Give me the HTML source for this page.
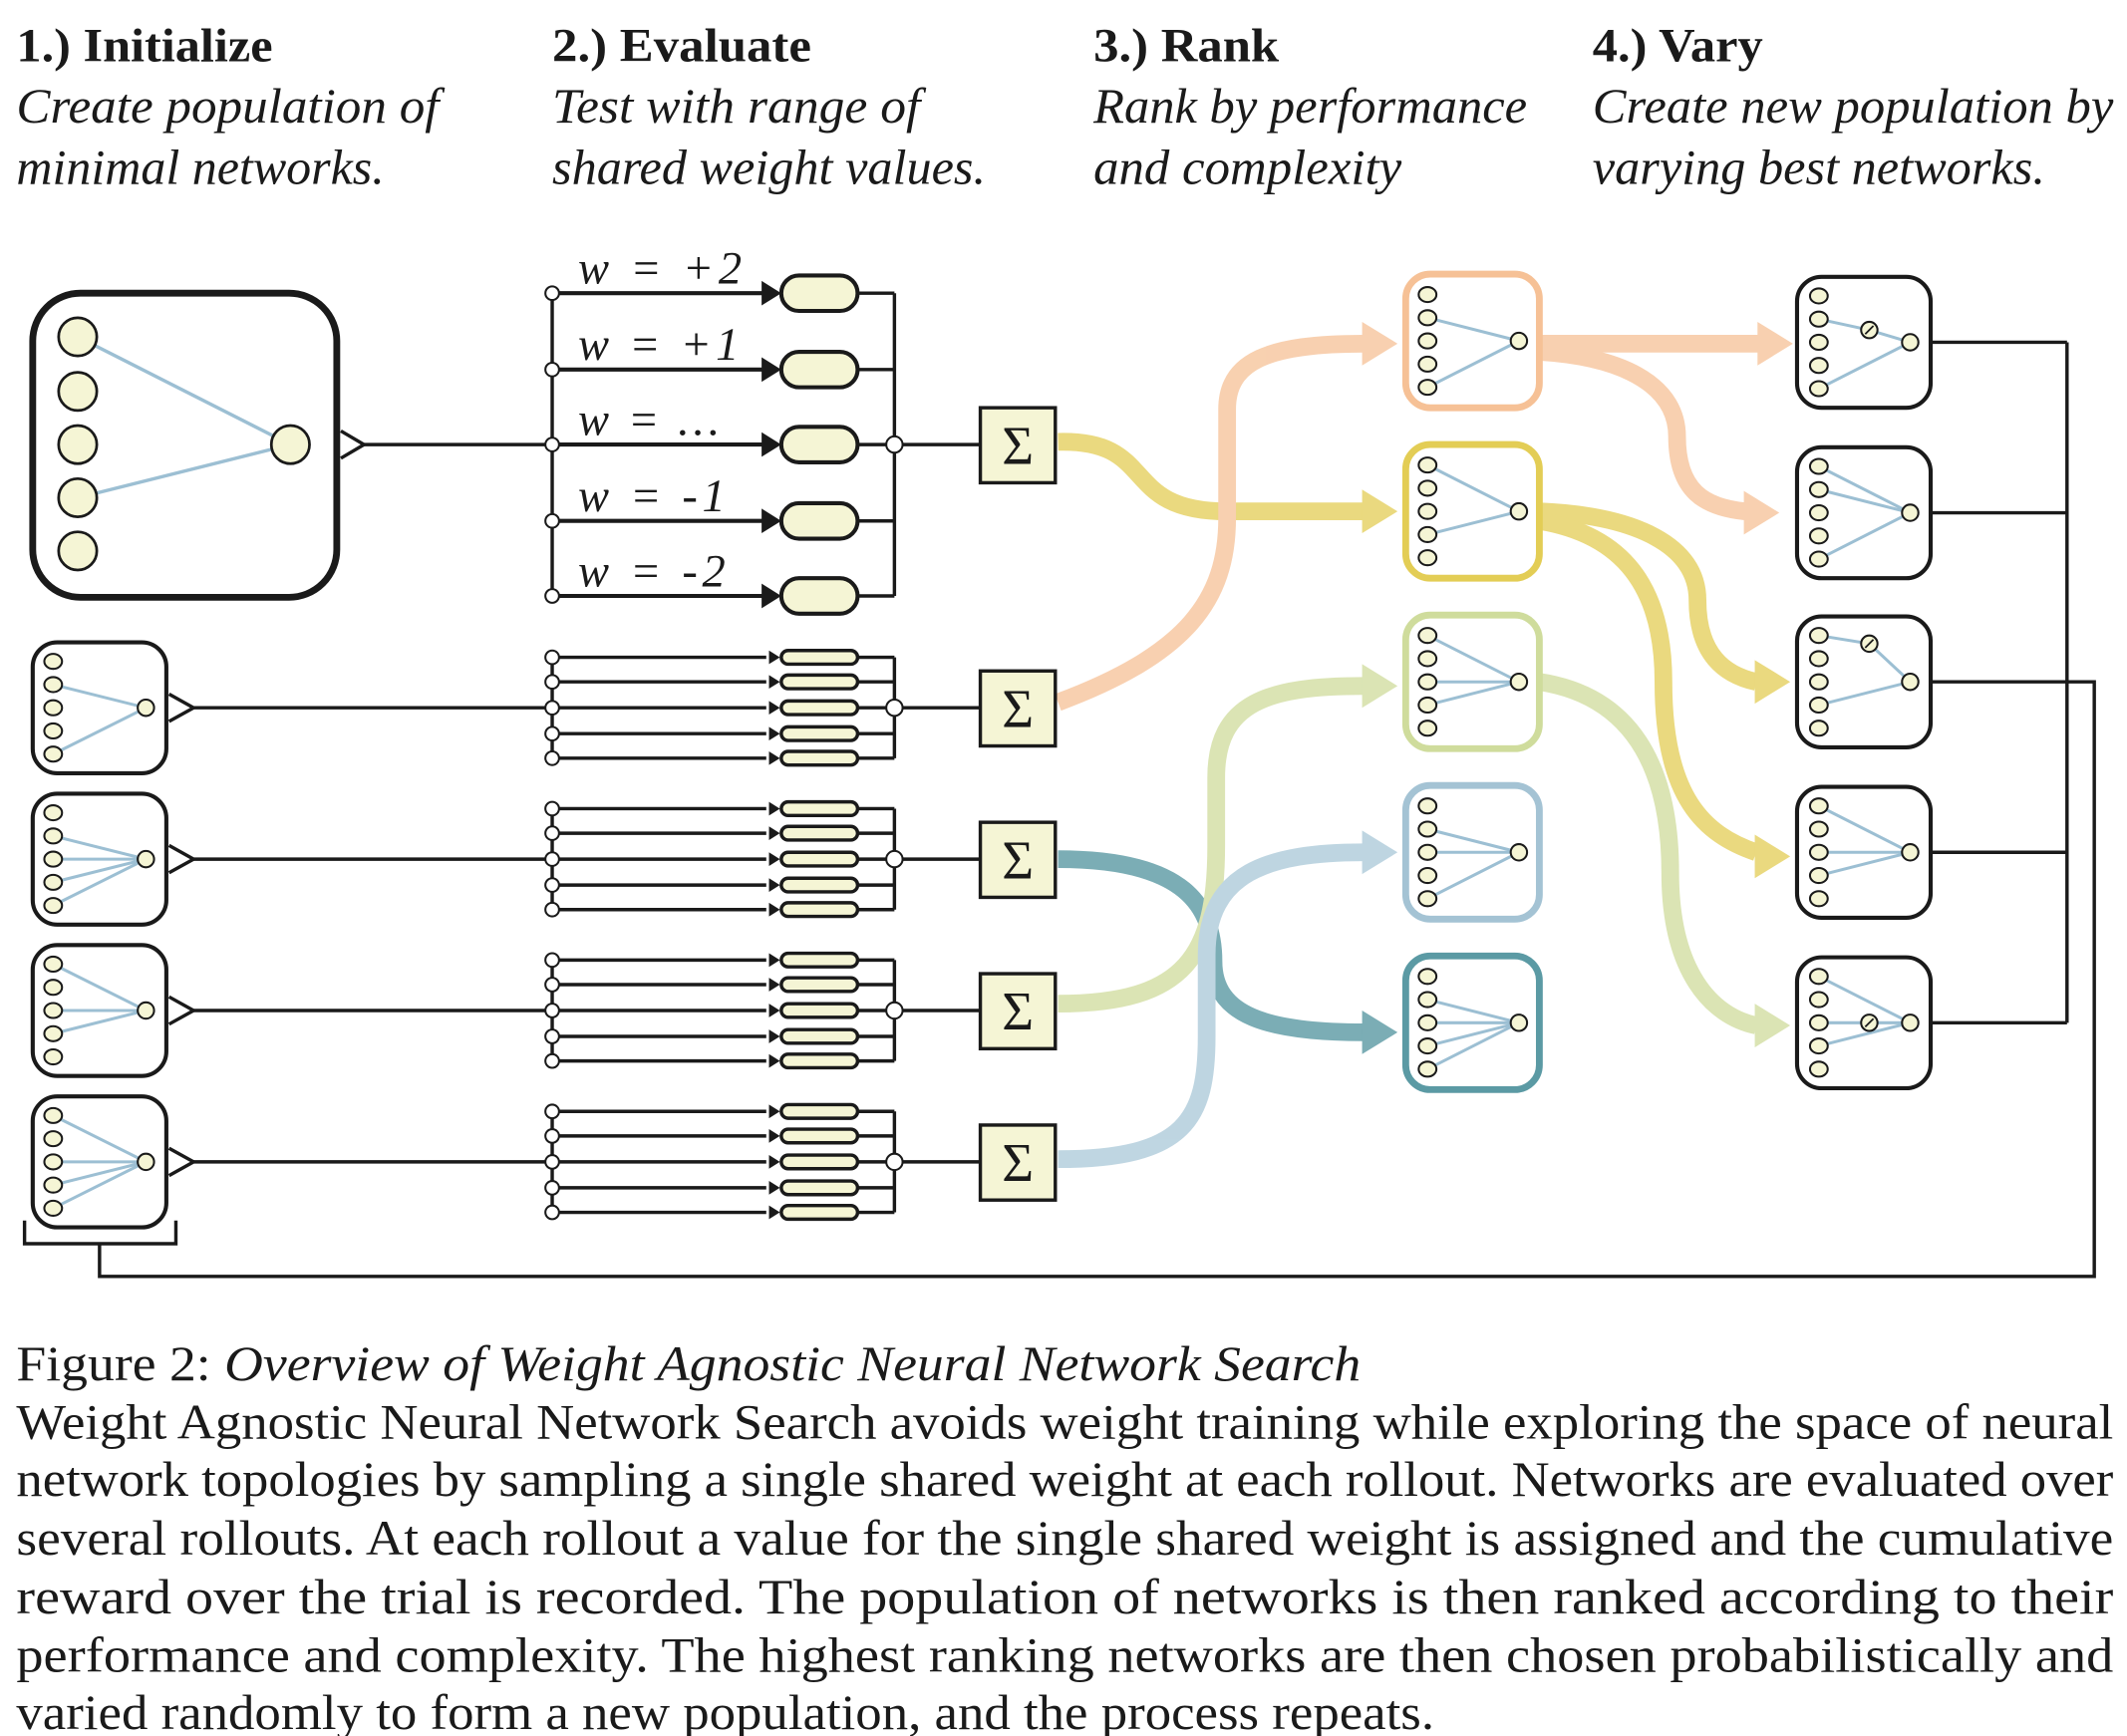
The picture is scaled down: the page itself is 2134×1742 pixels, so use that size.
<!DOCTYPE html>
<html><head><meta charset="utf-8"><style>
html,body{margin:0;padding:0;background:#fff;}
svg{display:block;}
text{font-family:"Liberation Serif",serif;fill:#1a1a1a;}
</style></head><body>
<svg id="s" width="2134" height="1742" viewBox="0 0 1560 1273" preserveAspectRatio="none" xmlns="http://www.w3.org/2000/svg">
<g font-size="35">
<text x="12" y="45" font-weight="bold" textLength="188" lengthAdjust="spacingAndGlyphs">1.) Initialize</text>
<text x="405" y="45" font-weight="bold" textLength="190" lengthAdjust="spacingAndGlyphs">2.) Evaluate</text>
<text x="802" y="45" font-weight="bold" textLength="136" lengthAdjust="spacingAndGlyphs">3.) Rank</text>
<text x="1168" y="45" font-weight="bold" textLength="125" lengthAdjust="spacingAndGlyphs">4.) Vary</text>
<g font-style="italic" font-size="36">
<text x="12" y="90" textLength="310" lengthAdjust="spacingAndGlyphs">Create population of</text>
<text x="12" y="135" textLength="270" lengthAdjust="spacingAndGlyphs">minimal networks.</text>
<text x="405" y="90" textLength="270" lengthAdjust="spacingAndGlyphs">Test with range of</text>
<text x="405" y="135" textLength="318" lengthAdjust="spacingAndGlyphs">shared weight values.</text>
<text x="802" y="90" textLength="318" lengthAdjust="spacingAndGlyphs">Rank by performance</text>
<text x="802" y="135" textLength="226" lengthAdjust="spacingAndGlyphs">and complexity</text>
<text x="1168" y="90" textLength="382" lengthAdjust="spacingAndGlyphs">Create new population by</text>
<text x="1168" y="135" textLength="332" lengthAdjust="spacingAndGlyphs">varying best networks.</text>
</g>
</g>
<g id="flows" fill="none" stroke-width="13" stroke-linecap="butt" opacity="0.75"></g>
<g id="g"></g>
<g font-size="36">
<text x="12" y="1012" textLength="986" lengthAdjust="spacingAndGlyphs">Figure 2:   <tspan font-style="italic">Overview of Weight Agnostic Neural Network Search</tspan></text>
<text x="12" y="1055" textLength="1538" lengthAdjust="spacingAndGlyphs">Weight Agnostic Neural Network Search avoids weight training while exploring the space of neural</text>
<text x="12" y="1097" textLength="1538" lengthAdjust="spacingAndGlyphs">network topologies by sampling a single shared weight at each rollout. Networks are evaluated over</text>
<text x="12" y="1140" textLength="1538" lengthAdjust="spacingAndGlyphs">several rollouts. At each rollout a value for the single shared weight is assigned and the cumulative</text>
<text x="12" y="1183" textLength="1538" lengthAdjust="spacingAndGlyphs">reward over the trial is recorded.  The population of networks is then ranked according to their</text>
<text x="12" y="1226" textLength="1538" lengthAdjust="spacingAndGlyphs">performance and complexity. The highest ranking networks are then chosen probabilistically and</text>
<text x="12" y="1268" textLength="1040" lengthAdjust="spacingAndGlyphs">varied randomly to form a new population, and the process repeats.</text>
</g>
<g font-size="34" font-style="italic">
<text x="424" y="208" textLength="120" lengthAdjust="spacing">w =  +2</text>
<text x="424" y="264" textLength="118" lengthAdjust="spacing">w =  +1</text>
<text x="424" y="319" textLength="104" lengthAdjust="spacing">w =  ...</text>
<text x="424" y="375" textLength="108" lengthAdjust="spacing">w =  -1</text>
<text x="424" y="430" textLength="108" lengthAdjust="spacing">w =  -2</text>
</g>
</svg>
<script>
const NS="http://www.w3.org/2000/svg";
const g=document.getElementById('g'), fl=document.getElementById('flows');
function el(t,a,p){const e=document.createElementNS(NS,t);for(const k in a)e.setAttribute(k,a[k]);(p||g).appendChild(e);return e;}
const K="#1a1a1a",CR="#f5f5d5",BL="#9cbfd3";
function line(x1,y1,x2,y2,w){el('line',{x1,y1,x2,y2,stroke:K,'stroke-width':w||2.5});}
function circ(cx,cy,r,w){el('circle',{cx,cy,r,fill:CR,stroke:K,'stroke-width':w||1.8});}
function arrowH(x,y,s){el('polygon',{points:`${x-s*1.6},${y-s} ${x},${y} ${x-s*1.6},${y+s}`,fill:K});}
el('rect',{x:24,y:215,width:223,height:223,rx:35,fill:'#fff',stroke:K,'stroke-width':5});
const bi=[247,287,326,365,404];
el('line',{x1:57,y1:247,x2:213,y2:326,stroke:BL,'stroke-width':2.5});
el('line',{x1:57,y1:365,x2:213,y2:326,stroke:BL,'stroke-width':2.5});
bi.forEach(y=>el('ellipse',{cx:57,cy:y,rx:14,ry:14,fill:CR,stroke:K,'stroke-width':2}));
circ(213,326,14,2);
el('polyline',{points:"250,316 267,326 250,336",fill:'none',stroke:K,'stroke-width':2.5});
line(267,326,405,326);
const ty=[215,271,326,382,437];
line(405,215,405,437,2.5);line(656,215,656,437,2.5);
ty.forEach(y=>{line(405,y,560,y,3);arrowH(573,y,9);line(629,y,656,y,2.5);
 el('rect',{x:573,y:y-13,width:56,height:26,rx:13,fill:CR,stroke:K,'stroke-width':3});
 el('circle',{cx:405,cy:y,r:5,fill:'#fff',stroke:K,'stroke-width':1.5});});
el('circle',{cx:656,cy:326,r:6,fill:'#fff',stroke:K,'stroke-width':1.5});
line(662,326,719,326);
function sigma(c){el('rect',{x:719,y:c-27,width:55,height:55,fill:CR,stroke:K,'stroke-width':2.5});
 const t=el('text',{x:746.5,y:c+14,'text-anchor':'middle','font-size':40});t.textContent='Σ';}
sigma(326);
function net(x,y,w,h,col,sw,ins,hid,inx){
 el('rect',{x,y,width:w,height:h,rx:18,fill:'#fff',stroke:col,'stroke-width':sw});
 const cx=x+(inx||15), c=y+h/2, ox=x+w-15, oy=c;
 const ys=[c-34,c-17,c,c+17,c+34];
 ins.forEach(i=>{if(hid&&hid.i===i){el('polyline',{points:`${cx},${ys[i]} ${hid.x},${hid.y} ${ox},${oy}`,fill:'none',stroke:BL,'stroke-width':2.2});}
  else el('line',{x1:cx,y1:ys[i],x2:ox,y2:oy,stroke:BL,'stroke-width':2.2});});
 ys.forEach(yy=>el('ellipse',{cx,cy:yy,rx:6.5,ry:5.5,fill:CR,stroke:K,'stroke-width':1.5}));
 circ(ox,oy,6,1.5);
 if(hid){circ(hid.x,hid.y,6,1.5);line(hid.x-3,hid.y+3,hid.x+3,hid.y-3,1.3);}
}
const rows=[519,630,741,852], re=[[1,4],[1,2,3,4],[0,2,3],[0,2,3,4]];
rows.forEach((c,k)=>{
 net(24,c-48,98,96,K,3,re[k],null);
 el('polyline',{points:`124,${c-10} 142,${c} 124,${c+10}`,fill:'none',stroke:K,'stroke-width':2.5});
 line(142,c,405,c);
 const ys=[c-37,c-19,c,c+19,c+37];
 line(405,ys[0],405,ys[4],2.5);line(656,ys[0],656,ys[4],2.5);
 ys.forEach(y=>{line(405,y,562,y,2.5);arrowH(572,y,5);line(629,y,656,y,2.5);
  el('rect',{x:573,y:y-5,width:56,height:10,rx:5,fill:CR,stroke:K,'stroke-width':2.5});
  el('circle',{cx:405,cy:y,r:5,fill:'#fff',stroke:K,'stroke-width':1.5});});
 el('circle',{cx:656,cy:c,r:6,fill:'#fff',stroke:K,'stroke-width':1.5});
 line(662,c,719,c);sigma(c);
});
el('polyline',{points:"18,895 18,912 129,912 129,895",fill:'none',stroke:K,'stroke-width':2.5});
el('polyline',{points:"73,912 73,936 1536,936 1536,500 1416,500",fill:'none',stroke:K,'stroke-width':2.5});
[251,376,625,750].forEach(y=>line(1416,y,1516,y));
line(1516,251,1516,750);
const cols={o:'#f6c196',y:'#e3cd55',g:'#cfdc9c',b:'#a9c8d8',t:'#4f929d'};
function flow(d,c,ex,ey){el('path',{d,stroke:cols[c]},fl);el('polygon',{points:`${ex-26},${ey-16} ${ex},${ey} ${ex-26},${ey+16}`,fill:cols[c],stroke:'none'},fl);}
flow("M776,324 C850,322 820,375 900,375 L1000,375",'y',1025,375);
flow("M776,515 C870,480 900,440 900,380 L900,300 C900,265 930,252 1000,252",'o',1025,252);
flow("M776,630 C870,630 890,665 890,705 C890,745 930,757 1000,757",'t',1025,757);
flow("M776,736 C870,736 892,700 892,620 L892,570 C892,515 930,503 1000,503",'g',1025,503);
flow("M776,850 C870,850 885,820 885,760 L885,700 C885,640 930,625 1000,625",'b',1025,625);
flow("M1129,252 L1290,252",'o',1315,252);
flow("M1129,258 C1195,262 1230,285 1230,320 C1230,360 1250,372 1280,375",'o',1305,376);
flow("M1129,375 C1200,378 1245,400 1245,440 C1245,480 1265,495 1288,500",'y',1313,500);
flow("M1129,382 C1190,392 1220,430 1220,500 C1220,585 1250,612 1288,625",'y',1313,628);
flow("M1129,500 C1195,510 1225,560 1225,640 C1225,712 1255,745 1288,752",'g',1313,752);
const rc=[250,375,500,625,750], rcol=['#f6c196','#e3cd55','#cfdc9c','#a4c3d4','#5b9aa4'];
const rI=[[1,4],[0,3],[0,2,3],[1,2,4],[1,2,3,4]];
rc.forEach((c,i)=>net(1031,c-49,98,98,rcol[i],5,rI[i],null,16));
const vc=[251,376,500,625,750];
const vI=[[1,4],[0,1,4],[0,3],[0,2,3],[0,2,3]];
const vH=[{i:1,x:1371,y:242},null,{i:0,x:1371,y:472},null,{i:2,x:1371,y:750}];
vc.forEach((c,i)=>net(1318,c-48,98,96,K,3,vI[i],vH[i],16));
</script>
</body></html>
